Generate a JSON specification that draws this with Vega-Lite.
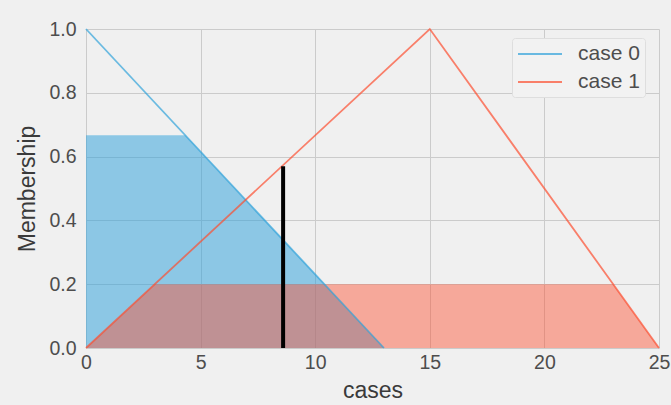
{
  "$schema": "https://vega.github.io/schema/vega-lite/v6.json",
  "autosize": {"type": "none"},
  "padding": {"left": 86, "top": 29, "right": 12, "bottom": 57},
  "width": 573,
  "height": 319,
  "background": "#f0f0f0",
  "config": {
    "view": {"stroke": null},
    "font": "Liberation Sans",
    "axis": {
      "domain": false,
      "ticks": false,
      "labelFlush": false,
      "gridColor": "#cbcbcb",
      "gridWidth": 1,
      "labelFont": "Liberation Sans",
      "labelFontSize": 19.5,
      "labelColor": "#4d4d4d",
      "titleFont": "Liberation Sans",
      "titleFontSize": 23,
      "titleFontWeight": "normal",
      "titleColor": "#3a3a3a"
    }
  },
  "datasets": {
    "mf": [
      {"x": 0, "y": 1, "series": "case 0"},
      {"x": 13, "y": 0, "series": "case 0"},
      {"x": 0, "y": 0, "series": "case 1"},
      {"x": 15, "y": 1, "series": "case 1"},
      {"x": 25, "y": 0, "series": "case 1"}
    ],
    "act": [
      {"x": 0, "y": 0.667, "series": "case 0"},
      {"x": 4.333, "y": 0.667, "series": "case 0"},
      {"x": 13, "y": 0, "series": "case 0"},
      {"x": 0, "y": 0, "series": "case 1"},
      {"x": 3, "y": 0.2, "series": "case 1"},
      {"x": 23, "y": 0.2, "series": "case 1"},
      {"x": 25, "y": 0, "series": "case 1"}
    ],
    "out": [
      {"x": 8.6, "y0": 0, "y1": 0.57}
    ]
  },
  "layer": [
    {
      "data": {"name": "act"},
      "transform": [{"filter": "datum.series === 'case 0'"}],
      "mark": {"type": "area", "color": "#30a2da", "opacity": 0.52, "interpolate": "linear"},
      "encoding": {
        "x": {"field": "x", "type": "quantitative", "scale": {"domain": [0, 25], "nice": false}, "axis": {"values": [0, 5, 10, 15, 20, 25], "title": "cases", "labelPadding": 5, "titlePadding": 8}},
        "y": {"field": "y", "type": "quantitative", "scale": {"domain": [0, 1], "nice": false}, "axis": {"values": [0, 0.2, 0.4, 0.6, 0.8, 1.0], "format": ".1f", "title": "Membership", "labelPadding": 10, "titlePadding": 9}}
      }
    },
    {
      "data": {"name": "act"},
      "transform": [{"filter": "datum.series === 'case 1'"}],
      "mark": {"type": "area", "color": "#fc4f30", "opacity": 0.45, "interpolate": "linear"},
      "encoding": {
        "x": {"field": "x", "type": "quantitative"},
        "y": {"field": "y", "type": "quantitative"}
      }
    },
    {
      "data": {"name": "mf"},
      "mark": {"type": "line", "strokeWidth": 1.8, "opacity": 0.7},
      "encoding": {
        "x": {"field": "x", "type": "quantitative"},
        "y": {"field": "y", "type": "quantitative"},
        "color": {
          "field": "series",
          "type": "nominal",
          "scale": {"domain": ["case 0", "case 1"], "range": ["#30a2da", "#fc4f30"]},
          "legend": {
            "title": null,
            "orient": "none",
            "legendX": 426,
            "legendY": 9,
            "symbolType": "M-1,0H3.4",
            "symbolSize": 400,
            "symbolStrokeWidth": 2,
            "labelOffset": 39,
            "labelFontSize": 21,
            "labelColor": "#4d4d4d",
            "labelFont": "Liberation Sans",
            "padding": 5,
            "rowPadding": 7,
            "fillColor": "#f2f2f2",
            "strokeColor": "#dedede",
            "cornerRadius": 3
          }
        }
      }
    },
    {
      "data": {"name": "out"},
      "mark": {"type": "rule", "color": "#000000", "strokeWidth": 4},
      "encoding": {
        "x": {"field": "x", "type": "quantitative"},
        "y": {"field": "y0", "type": "quantitative"},
        "y2": {"field": "y1"}
      }
    }
  ]
}
